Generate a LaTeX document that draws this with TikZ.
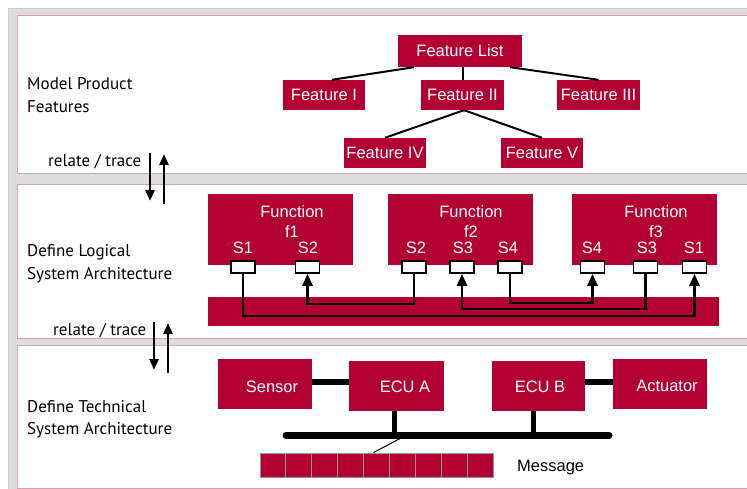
\documentclass[tikz,border=0pt]{standalone}
\usepackage{fontspec}
\setmainfont{Liberation Sans}
\newfontfamily\lblfont{PT Sans}
\usetikzlibrary{arrows.meta,calc}
\definecolor{crim}{RGB}{178,0,51}
\definecolor{bggray}{RGB}{221,221,221}
\definecolor{bgedge}{RGB}{205,205,205}
\definecolor{pnlborder}{RGB}{214,160,178}
\definecolor{cellgray}{RGB}{150,150,150}
\begin{document}
\begin{tikzpicture}[x=1pt,y=-1pt,
  box/.style={fill=crim, text=white, inner sep=0pt, font=\fontsize{16.5}{18}\selectfont},
  txt/.style={text=white, inner sep=0pt, font=\fontsize{16.5}{20}\selectfont},
  lbl/.style={inner sep=0pt, anchor=base west, font=\lblfont\fontsize{17}{20}\selectfont},
  tree/.style={line width=2pt},
  port/.style={draw=black, fill=white, line width=1.6pt, minimum width=24pt, minimum height=12pt, inner sep=0pt},
  sigarr/.style={line width=2.5pt, -{Triangle[width=10pt,length=12pt]}},
  rel/.style={line width=2.5pt, -{Triangle[width=9pt,length=11pt]}},
  hw/.style={line width=6pt},
  cell/.style={fill=crim, draw=cellgray, line width=1pt, minimum width=25.9pt, minimum height=24pt, inner sep=0pt},
]
\useasboundingbox (0,0) rectangle (747,489);
\fill[white] (0,0) rectangle (747,489);
\filldraw[fill=bggray, draw=bgedge] (8,8) rectangle (760,500);
% panels
\filldraw[fill=white, draw=pnlborder, line width=1pt] (17,16) rectangle (760,174);
\filldraw[fill=white, draw=pnlborder, line width=1pt] (17,185) rectangle (760,338);
\filldraw[fill=white, draw=pnlborder, line width=1pt] (17,345) rectangle (760,488);

% ---------- panel 1
\node[lbl] (m1) at (27,90) {Model Product};
\node[lbl] (m2) at (27,113) {Features};
\node[box, minimum width=124pt, minimum height=32pt] (FL) at (460,51) {Feature List};
\node[box, minimum width=82pt, minimum height=30pt] (F1) at (324,95) {Feature I};
\node[box, minimum width=83pt, minimum height=30pt] (F2) at (462.5,95) {Feature II};
\node[box, minimum width=83pt, minimum height=30pt] (F3) at (598.5,95) {Feature III};
\node[box, minimum width=82pt, minimum height=30pt] (F4) at (385,153) {Feature IV};
\node[box, minimum width=82pt, minimum height=30pt] (F5) at (542,153) {Feature V};
\draw[tree] ($(FL.south west)+(16,0)$) -- ($(F1.north)+(8,0)$);
\draw[tree] (F2.north) -- (F2.north |- FL.south);
\draw[tree] ($(FL.south east)+(-12,0)$) -- (F3.north);
\draw[tree] ($(F2.south)+(1.5,0)$) -- (F4.north);
\draw[tree] ($(F2.south)+(1.5,0)$) -- (F5.north);

% relate / trace 1
\node[lbl] (rt1) at (48,167) {relate / trace};
\coordinate (r1a) at (150,153);
\coordinate (r1b) at (150,201);
\coordinate (r1c) at (164,204);
\coordinate (r1d) at (164,154);
\draw[rel] (r1a) -- (r1b);
\draw[rel] (r1c) -- (r1d);

% ---------- panel 2
\node[lbl] (d1) at (27,257) {Define Logical};
\node[lbl] (d2) at (27,279) {System Architecture};
\node[box, minimum width=145pt, minimum height=71pt] (fn1) at (280.5,229.5) {};
\node[box, minimum width=145pt, minimum height=71pt] (fn2) at (460.5,229.5) {};
\node[box, minimum width=145pt, minimum height=71pt] (fn3) at (644.5,229.5) {};
\node[box, minimum width=511pt, minimum height=29pt] (bar) at (463.5,311.5) {};
\node[txt, align=center] (fn1t) at (292,222) {Function\\f1};
\node[txt, align=center] (fn2t) at (471,222) {Function\\f2};
\node[txt, align=center] (fn3t) at (656,222) {Function\\f3};
% port labels
\node[txt] (l11) at (243,248) {S1};
\node[txt] (l12) at (308,248) {S2};
\node[txt] (l22) at (416,248) {S2};
\node[txt] (l23) at (463,248) {S3};
\node[txt] (l24) at (508,248) {S4};
\node[txt] (l34) at (592,248) {S4};
\node[txt] (l33) at (647,248) {S3};
\node[txt] (l31) at (694,248) {S1};
% ports
\node[port] (p11) at (243,267) {};
\node[port] (p12) at (307.5,267) {};
\node[port] (p22) at (414,267) {};
\node[port] (p23) at (462,267) {};
\node[port] (p24) at (510,267) {};
\node[port] (p34) at (592.5,267) {};
\node[port] (p33) at (645.5,267) {};
\node[port] (p31) at (694.5,267) {};
\coordinate (ya) at (0,316);
\coordinate (yb) at (0,304);
\coordinate (yc) at (0,309);
\coordinate (yd) at (0,303);
\draw[sigarr] (p11.south) -- (p11.south |- ya) -| (p31.south);
\draw[sigarr] (p22.south) -- (p22.south |- yb) -| (p12.south);
\draw[sigarr] (p33.south) -- (p33.south |- yc) -| (p23.south);
\draw[sigarr] (p24.south) -- (p24.south |- yd) -| (p34.south);

% relate / trace 2
\node[lbl] (rt2) at (53,335) {relate / trace};
\coordinate (r2a) at (154,322);
\coordinate (r2b) at (154,370);
\coordinate (r2c) at (168,373);
\coordinate (r2d) at (168,323);
\draw[rel] (r2a) -- (r2b);
\draw[rel] (r2c) -- (r2d);

% ---------- panel 3
\node[lbl] (t1) at (27,412) {Define Technical};
\node[lbl] (t2) at (27,434) {System Architecture};
\node[box, minimum width=94pt, minimum height=50pt] (sen) at (265,384) {};
\node[box, minimum width=95pt, minimum height=50pt] (ecua) at (396.5,386) {};
\node[box, minimum width=93pt, minimum height=50pt] (ecub) at (538.5,386) {};
\node[box, minimum width=94pt, minimum height=50pt] (act) at (660,384) {};
\node[txt] (sent) at (272,387) {Sensor};
\node[txt] (ecuat) at (405,387) {ECU A};
\node[txt] (ecubt) at (540,387) {ECU B};
\node[txt] (actt) at (667,386) {Actuator};
\coordinate (yh) at (0,382);
\draw[hw] (sen.east |- yh) -- (ecua.west |- yh);
\draw[hw] (ecub.east |- yh) -- (act.west |- yh);
\coordinate (busL) at (286,435);
\coordinate (busR) at (609,435);
\coordinate (xa) at (394,0);
\coordinate (xb) at (533,0);
\draw[line width=5pt] (ecua.south -| xa) -- (xa |- busL);
\draw[line width=5pt] (ecub.south -| xb) -- (xb |- busL);
\draw[line width=7pt, line cap=round] (busL) -- (busR);
\foreach \i in {1,...,9} {
  \node[cell] (c\i) at ({260+25.9*(\i-0.5)},465) {};
}
\coordinate (tap) at (403,437);
\draw[line width=1pt] (tap) -- ($(c5.north)+(-3,0)$);
\node[inner sep=0pt, anchor=base west, font=\fontsize{16.5}{18}\selectfont] (msg) at (517,471) {Message};
\end{tikzpicture}
\end{document}
